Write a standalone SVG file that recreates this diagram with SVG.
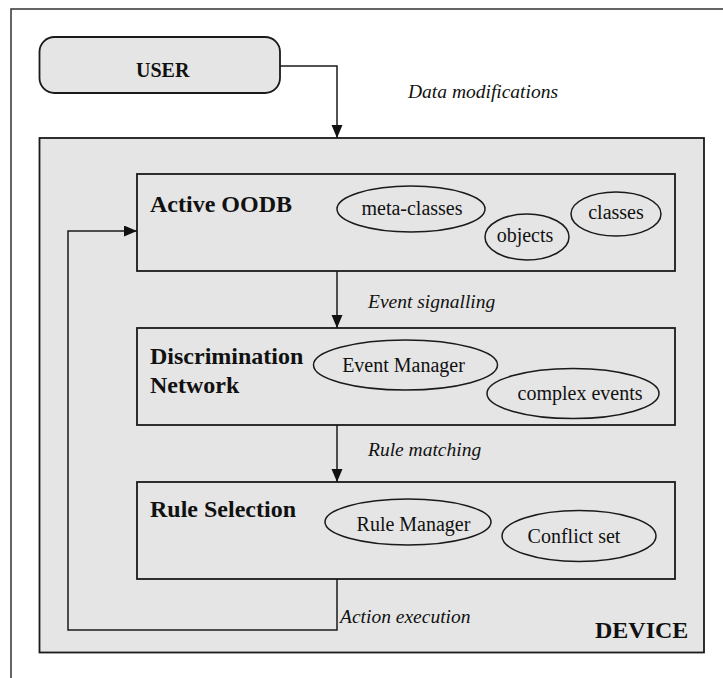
<svg xmlns="http://www.w3.org/2000/svg" width="723" height="678" viewBox="0 0 723 678">
  <style>
    .frame { fill: none; stroke: #333; stroke-width: 1.5; }
    .box { fill: #e5e5e5; stroke: #1a1a1a; stroke-width: 1.8; }
    .oval { fill: #e5e5e5; stroke: #1a1a1a; stroke-width: 1.5; }
    .wire { fill: none; stroke: #1a1a1a; stroke-width: 1.5; }
    .title { font-family: "Liberation Serif", "Times New Roman", serif; font-weight: bold; font-size: 24px; fill: #111; }
    .user { font-family: "Liberation Serif", "Times New Roman", serif; font-weight: bold; font-size: 20px; fill: #111; }
    .item { font-family: "Liberation Serif", "Times New Roman", serif; font-size: 20px; fill: #111; text-anchor: middle; }
    .flow { font-family: "Liberation Serif", "Times New Roman", serif; font-style: italic; font-size: 19.5px; fill: #111; }
  </style>
  <defs>
    <marker id="arrow" markerUnits="userSpaceOnUse" markerWidth="14" markerHeight="12" refX="13" refY="5.5" orient="auto">
      <path d="M0,0 L13,5.5 L0,11 Z" fill="#111"/>
    </marker>
  </defs>

  <!-- outer frame (top and left edges only) -->
  <path class="frame" d="M11,678 V9 H723"/>

  <!-- user -->
  <g id="user">
    <rect class="box" x="39.5" y="37" width="240.5" height="56" rx="15" ry="15"/>
    <text class="user" x="136" y="77">USER</text>
  </g>

  <!-- device container -->
  <g id="device">
    <rect class="box" x="39.5" y="138" width="664.5" height="514.5"/>
    <text class="title" x="595" y="638">DEVICE</text>
  </g>

  <g id="active-oodb">
    <rect class="box" x="137" y="174" width="538" height="97"/>
    <text class="title" x="150" y="211.5">Active OODB</text>
    <ellipse class="oval" cx="411" cy="209" rx="74" ry="23"/>
    <text class="item" x="412" y="215">meta-classes</text>
    <ellipse class="oval" cx="527" cy="237" rx="42" ry="23"/>
    <text class="item" x="525" y="242">objects</text>
    <ellipse class="oval" cx="616" cy="214" rx="45" ry="22"/>
    <text class="item" x="616" y="218.5">classes</text>
  </g>

  <g id="discrimination-network">
    <rect class="box" x="137" y="328" width="538" height="97"/>
    <text class="title" x="150" y="364">Discrimination</text>
    <text class="title" x="150" y="392.5">Network</text>
    <ellipse class="oval" cx="405.5" cy="365" rx="92" ry="25"/>
    <text class="item" x="403.5" y="371.5">Event Manager</text>
    <ellipse class="oval" cx="573" cy="393.5" rx="86" ry="25"/>
    <text class="item" x="580" y="400">complex events</text>
  </g>

  <g id="rule-selection">
    <rect class="box" x="137" y="482" width="538" height="97"/>
    <text class="title" x="150" y="517">Rule Selection</text>
    <ellipse class="oval" cx="408" cy="522" rx="83" ry="23"/>
    <text class="item" x="413.5" y="531">Rule Manager</text>
    <ellipse class="oval" cx="579" cy="536" rx="77" ry="25.5"/>
    <text class="item" x="574" y="543">Conflict set</text>
  </g>

  <!-- connectors -->
  <g id="connectors">
    <path class="wire" d="M280,66 H337 V138" marker-end="url(#arrow)"/>
    <path class="wire" d="M337,271 V328" marker-end="url(#arrow)"/>
    <path class="wire" d="M337,425 V482" marker-end="url(#arrow)"/>
    <path class="wire" d="M337,579 V630 H68 V231 H137" marker-end="url(#arrow)"/>
    <text class="flow" x="408" y="98">Data modifications</text>
    <text class="flow" x="368" y="308">Event signalling</text>
    <text class="flow" x="368" y="455.5">Rule matching</text>
    <text class="flow" x="340" y="623">Action execution</text>
  </g>
</svg>
